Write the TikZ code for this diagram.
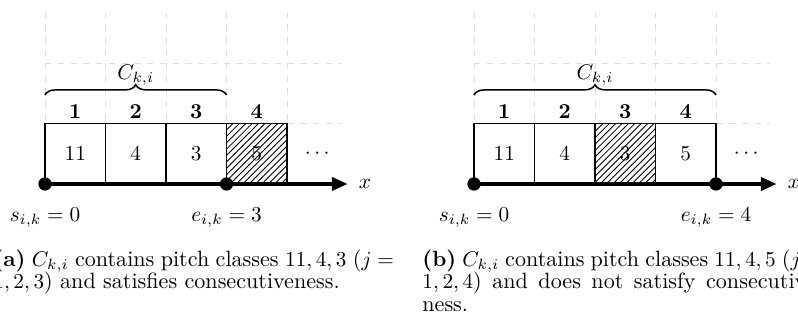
\documentclass[tikz,border=0pt]{standalone}
\usetikzlibrary{patterns,decorations.pathreplacing,arrows.meta}
\tikzset{
  cellbox/.style={draw=black, line width=0.6pt, minimum width=1cm, minimum height=1cm, inner sep=0pt, outer sep=0pt},
  hatched/.style={cellbox, pattern=north east lines},
  gridline/.style={draw=gray!25, dashed, line width=0.4pt},
  axisline/.style={line width=1.5pt, -{Triangle[length=2.6mm,width=2.2mm]}},
  bigdot/.style={circle, fill=black, minimum size=0.22cm, inner sep=0pt},
  idxlabel/.style={font=\bfseries},
  capline/.style={anchor=base west, inner sep=0pt, font=\fontsize{10.4}{12.5}\selectfont},
}
\newcommand{\mypanel}[8]{%
  % #1 prefix, #2 xshift, #3-#6 cell texts, #7 hatched index, #8 end index
  \begin{scope}[xshift=#2cm]
    \draw[gridline] (0,0) grid (4.9,2.83);
    \foreach \i/\t in {1/#3,2/#4,3/#5,4/#6}{
      \ifnum\i=#7
        \node[hatched] (#1c\i) at (\i-0.5,0.5) {$\t$};
      \else
        \node[cellbox] (#1c\i) at (\i-0.5,0.5) {$\t$};
      \fi
      \node[idxlabel] (#1l\i) at (\i-0.5,1.19) {$\mathbf{\i}$};
    }
    \node (#1dots) at (4.5,0.5) {$\cdots$};
    \coordinate (#1end) at (5,0);
    \node[bigdot] (#1s) at (0,0) {};
    \node[bigdot] (#1e) at (#8,0) {};
    \draw[axisline] (#1s.center) -- (#1end);
    \node[anchor=west, inner sep=0pt] (#1x) at (5.18,0) {$x$};
    \coordinate (#1bl) at (0,1.47);
    \coordinate (#1br) at (#8,1.47);
    \draw[decorate, decoration={brace, amplitude=0.17cm}, line width=0.7pt] (#1bl) -- (#1br);
    \node (#1C) at (#8/2,1.80) {$C_{k,i}$};
    \node (#1slab) at (0,-0.56) {$s_{i,k} = 0$};
    \node (#1elab) at (#8,-0.56) {$e_{i,k} = #8$};
  \end{scope}
}
\begin{document}
\begin{tikzpicture}
\useasboundingbox (-0.744,-2.430) rectangle (12.446,3.041);
\begin{scope}
\clip (-0.744,-2.430) rectangle (12.446,3.041);
\mypanel{a}{0}{11}{4}{3}{5}{4}{3}
\mypanel{b}{7.091}{11}{4}{3}{5}{3}{4}
\node[capline] (ca1) at (-0.86,-1.36) {\makebox[6.62cm][s]{\textbf{(a)} $C_{k,i}$ contains pitch classes $11,4,3$ ($j =$}};
\node[capline] (ca2) at (-0.86,-1.73) {$1,2,3$) and satisfies consecutiveness.};
\node[capline] (cb1) at (6.231,-1.36) {\makebox[6.62cm][s]{\textbf{(b)} $C_{k,i}$ contains pitch classes $11,4,5$ ($j =$}};
\node[capline] (cb2) at (6.231,-1.73) {\makebox[6.62cm][s]{$1,2,4$) and does not satisfy consecutive-}};
\node[capline] (cb3) at (6.231,-2.10) {ness.};
\end{scope}
\end{tikzpicture}
\end{document}
